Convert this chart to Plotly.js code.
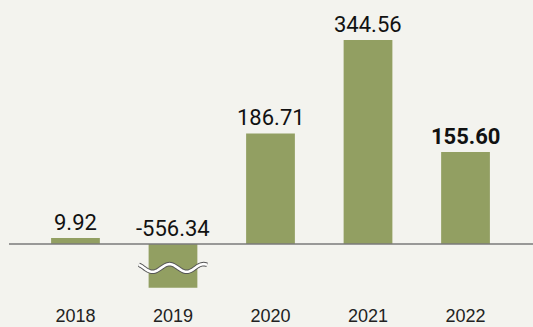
<!DOCTYPE html>
<html>
<head>
<meta charset="utf-8">
<script src="https://cdn.plot.ly/plotly-3.0.1.min.js"></script>
<style>html,body{margin:0;padding:0;background:#f3f3ee;}#chart{width:533px;height:327px;}</style>
</head>
<body>
<div id="chart"></div>
<script>
const years = ["2018", "2019", "2020", "2021", "2022"];
const values = [9.92, -556.34, 186.71, 344.56, 155.60];
const labels = ["9.92", "-556.34", "186.71", "344.56", "155.60"];
// broken-axis floor: bars below this are truncated and marked with a wave
const axisFloor = -74;

const xs = years.map((_, i) => i);
const shown = values.map(v => Math.max(v, axisFloor));

const annotations = values.map((v, i) => ({
  x: i, y: Math.max(v, 0), xref: 'x', yref: 'y',
  text: i === values.length - 1 ? '<b>' + labels[i] + '</b>' : labels[i],
  showarrow: false, yanchor: 'bottom', xanchor: 'center', yshift: 1,
  font: {family: 'Roboto, "Liberation Sans", sans-serif', size: 22, color: '#111'}
}));

const shapes = [{
  type: 'line', xref: 'paper', yref: 'y', x0: 9/533, x1: 1, y0: 0, y1: 0,
  line: {color: '#7a7a7a', width: 1.5}, layer: 'above'
}];
values.forEach((v, i) => {
  if (v < axisFloor) {
    const yc = -40.5, amp = 6.5, half = 0.35, period = 34/97.5;
    let d = '';
    const n = 60;
    for (let k = 0; k <= n; k++) {
      const x = i - half + 2*half*k/n;
      const y = yc + amp*Math.cos(2*Math.PI*(x - (i - 0.035))/period);
      d += (k === 0 ? 'M' : 'L') + x.toFixed(4) + ',' + y.toFixed(3);
    }
    shapes.push({type: 'path', xref: 'x', yref: 'y', path: d, line: {color: '#555', width: 4.5}, layer: 'above'});
    shapes.push({type: 'path', xref: 'x', yref: 'y', path: d, line: {color: '#ffffff', width: 2.6}, layer: 'above'});
  }
});

Plotly.newPlot('chart', [{
  type: 'bar', x: xs, y: shown, width: 0.5,
  marker: {color: '#929f62'}, hoverinfo: 'skip'
}], {
  width: 533, height: 327,
  margin: {l: 0, r: 0, t: 0, b: 24},
  paper_bgcolor: '#f3f3ee', plot_bgcolor: '#f3f3ee',
  showlegend: false,
  xaxis: {
    range: [-0.774, 4.692], tickmode: 'array', tickvals: xs, ticktext: years,
    showgrid: false, zeroline: false, showline: false, ticks: '',
    tickfont: {family: '"Liberation Sans", Arial, sans-serif', size: 18, color: '#222'}
  },
  yaxis: {
    range: [-99.7, 412.2], visible: false, showgrid: false, zeroline: false
  },
  annotations: annotations,
  shapes: shapes
}, {displayModeBar: false, staticPlot: true});
</script>
</body>
</html>
